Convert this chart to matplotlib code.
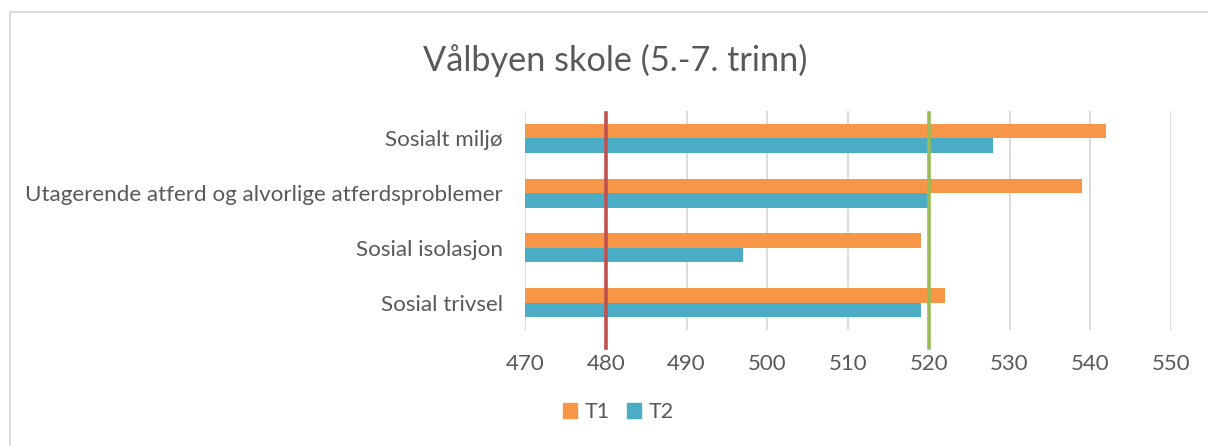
import matplotlib.pyplot as plt
from matplotlib.patches import Patch, Rectangle

categories = ["Sosial trivsel", "Sosial isolasjon",
              "Utagerende atferd og alvorlige atferdsproblemer", "Sosialt miljø"]
t1 = [522, 519, 539, 542]
t2 = [519, 497, 520, 528]
ref_low = 480
ref_high = 520
ticks = [470, 480, 490, 500, 510, 520, 530, 540, 550]

orange = "#F79646"
blue = "#4BACC6"
grey_txt = "#595959"

plt.rcParams['font.family'] = ['Lato', 'DejaVu Sans']

fig = plt.figure(figsize=(12.08, 4.46), dpi=100)
ax = fig.add_axes([0.4346, 0.2601, 0.9694 - 0.4346, 0.7511 - 0.2601])

y = list(range(len(categories)))
h = 0.265
ax.barh([v + h / 2 for v in y], [a - 470 for a in t1], left=470, height=h,
        color=orange, label="T1", zorder=2)
ax.barh([v - h / 2 for v in y], [b - 470 for b in t2], left=470, height=h,
        color=blue, label="T2", zorder=2)

ax.axvline(ref_low, ymin=-0.082, ymax=0.99, color="#C0504D", lw=2.6,
           clip_on=False, zorder=3)
ax.axvline(ref_high, ymin=-0.082, ymax=0.99, color="#9BBB59", lw=2.6,
           clip_on=False, zorder=3)

ax.set_xlim(470, 550)
ax.set_ylim(-0.5, len(categories) - 0.5)
ax.set_xticks(ticks)
ax.set_yticks(y)
ax.set_yticklabels(categories)
ax.grid(axis="x", color="#D9D9D9", lw=1.3, zorder=0)
for s in ax.spines.values():
    s.set_visible(False)
ax.tick_params(axis="both", length=0, colors=grey_txt)
ax.tick_params(axis="x", labelsize=16, pad=17)
ax.tick_params(axis="y", labelsize=16.1, pad=16)

fig.text(0.509, 0.865, "Vålbyen skole (5.-7. trinn)", ha="center", va="center",
         fontsize=24.7, color=grey_txt)

handles = [Patch(color=orange, label="T1"), Patch(color=blue, label="T2")]
fig.legend(handles=handles, loc="center", bbox_to_anchor=(0.512, 0.076), ncol=2,
           frameon=False, fontsize=15.5, labelcolor=grey_txt, handlelength=0.65,
           handleheight=0.65, handletextpad=0.35, columnspacing=0.8)

fig.patches.append(Rectangle((0.008, -0.05), 1.1, 1.023, transform=fig.transFigure,
                             fill=False, edgecolor="#D9D9D9", lw=1.3))

fig.savefig("out.png", dpi=100)
